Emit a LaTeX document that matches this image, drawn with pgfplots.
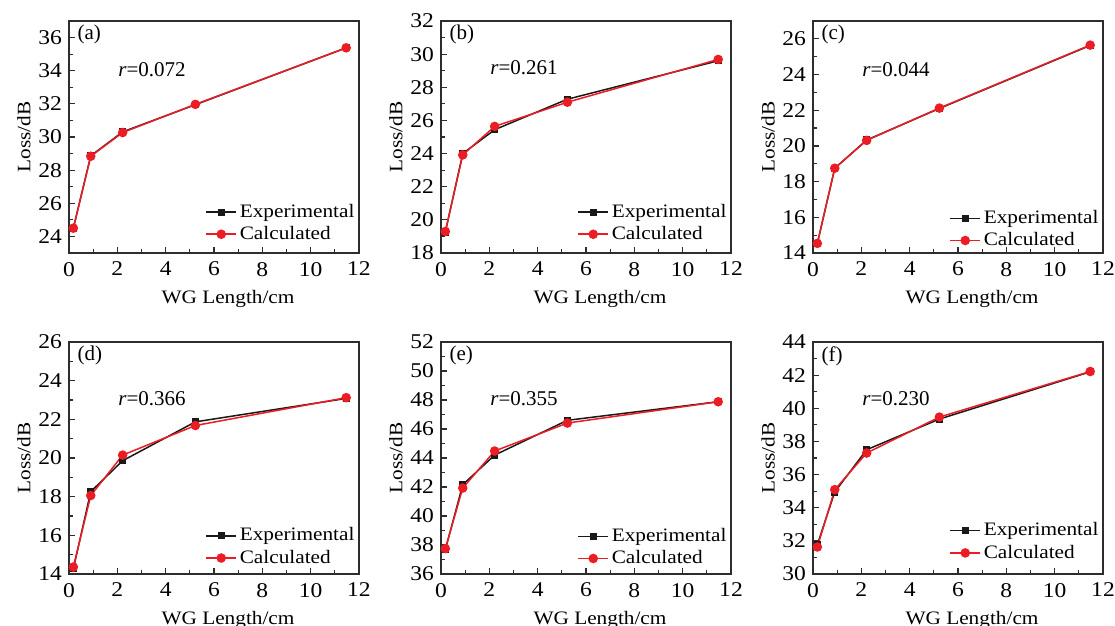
\documentclass[border=0pt]{standalone}
\usepackage{fontspec}
\setmainfont[FakeStretch=1.12]{Liberation Serif}
\newfontfamily\plainserif{Liberation Serif}
\usepackage{pgfplots}
\pgfplotsset{compat=1.18}
\definecolor{expblk}{RGB}{25,25,25}
\definecolor{calred}{RGB}{236,28,36}
\definecolor{framec}{RGB}{45,45,45}
\tikzset{paneltxt/.style={anchor=west, inner sep=0pt, font=\plainserif\fontsize{10.5}{12}\selectfont}}
\pgfplotsset{
  lossax/.style={
    scale only axis, width=145pt, height=116pt,
    anchor=south west,
    xmin=0, xmax=12, xtick={0,2,...,12},
    minor x tick num=1, minor y tick num=1,
    tick pos=left, tick align=inside,
    major tick length=3pt, minor tick length=2pt,
    axis line style={framec, line width=0.7pt},
    every tick/.style={framec, line width=0.6pt},
    ticklabel style={font=\fontsize{10.5}{12}\selectfont},
    xticklabel style={yshift=-1pt},
    /pgf/number format/assume math mode=true,
    xlabel={WG Length/cm}, ylabel={Loss/dB},
    label style={font=\fontsize{9.5}{11}\selectfont},
    xlabel style={xshift=7pt},
    ylabel shift=-3pt,
    legend cell align=left,
    legend style={draw=none, fill=none, font=\fontsize{9.5}{11}\selectfont,
      anchor=south west, inner sep=0pt, row sep=-1pt, nodes={inner xsep=1.5pt}},
    legend image code/.code={\draw[mark repeat=2,mark phase=2,##1] plot coordinates {(0cm,0cm)(0.26cm,0cm)(0.52cm,0cm)};},
  },
  expl/.style={expblk, line width=0.75pt, mark=square*, mark size=1.4pt, mark options={solid}},
  calc/.style={calred, line width=0.75pt, mark=*, mark size=2pt, mark options={solid}},
}
\begin{document}
\begin{tikzpicture}
% (a)
\begin{axis}[lossax, at={(34.5pt,-126.5pt)}, ymin=23, ymax=37, ytick={24,26,...,36},
  legend style={at={(0.47,0.027)}}]
\addplot[expl] coordinates {(0.18,24.50) (0.90,28.86) (2.22,30.31) (5.23,31.95) (11.47,35.38)};
\addplot[calc] coordinates {(0.18,24.50) (0.90,28.84) (2.22,30.27) (5.23,31.97) (11.47,35.38)};
\legend{Experimental,Calculated}
\node[paneltxt] at (rel axis cs:0.028,0.94) {(a)};
\node[paneltxt] at (rel axis cs:0.169,0.789) {\textit{r}=0.072};
\end{axis}
% (b)
\begin{axis}[lossax, at={(220.5pt,-126.5pt)}, ymin=18, ymax=32, ytick={18,20,...,32},
  legend style={at={(0.47,0.027)}}]
\addplot[expl] coordinates {(0.18,19.26) (0.90,24.00) (2.22,25.44) (5.23,27.28) (11.47,29.60)};
\addplot[calc] coordinates {(0.18,19.30) (0.90,23.92) (2.22,25.64) (5.23,27.10) (11.47,29.68)};
\legend{Experimental,Calculated}
\node[paneltxt] at (rel axis cs:0.028,0.94) {(b)};
\node[paneltxt] at (rel axis cs:0.169,0.797) {\textit{r}=0.261};
\end{axis}
% (c)
\begin{axis}[lossax, at={(406.5pt,-126.5pt)}, ymin=14, ymax=27, ytick={14,16,...,26},
  legend style={at={(0.47,0.0)}}]
\addplot[expl] coordinates {(0.18,14.54) (0.90,18.75) (2.22,20.33) (5.23,22.10) (11.47,25.63)};
\addplot[calc] coordinates {(0.18,14.54) (0.90,18.75) (2.22,20.31) (5.23,22.12) (11.47,25.65)};
\legend{Experimental,Calculated}
\node[paneltxt] at (rel axis cs:0.028,0.94) {(c)};
\node[paneltxt] at (rel axis cs:0.169,0.789) {\textit{r}=0.044};
\end{axis}
% (d)
\begin{axis}[lossax, at={(34.5pt,-287pt)}, ymin=14, ymax=26, ytick={14,16,...,26},
  legend style={at={(0.47,0.015)}}]
\addplot[expl] coordinates {(0.18,14.27) (0.90,18.26) (2.22,19.86) (5.23,21.87) (11.47,23.08)};
\addplot[calc] coordinates {(0.18,14.36) (0.90,18.06) (2.22,20.15) (5.23,21.68) (11.47,23.12)};
\legend{Experimental,Calculated}
\node[paneltxt] at (rel axis cs:0.028,0.94) {(d)};
\node[paneltxt] at (rel axis cs:0.169,0.755) {\textit{r}=0.366};
\end{axis}
% (e)
\begin{axis}[lossax, at={(220.5pt,-287pt)}, ymin=36, ymax=52, ytick={36,38,...,52},
  legend style={at={(0.47,0.013)}}]
\addplot[expl] coordinates {(0.18,37.68) (0.90,42.16) (2.22,44.20) (5.23,46.60) (11.47,47.88)};
\addplot[calc] coordinates {(0.18,37.75) (0.90,41.93) (2.22,44.48) (5.23,46.41) (11.47,47.88)};
\legend{Experimental,Calculated}
\node[paneltxt] at (rel axis cs:0.028,0.94) {(e)};
\node[paneltxt] at (rel axis cs:0.169,0.755) {\textit{r}=0.355};
\end{axis}
% (f)
\begin{axis}[lossax, at={(406.5pt,-287pt)}, ymin=30, ymax=44, ytick={30,32,...,44},
  legend style={at={(0.47,0.037)}}]
\addplot[expl] coordinates {(0.18,31.77) (0.90,34.95) (2.22,37.50) (5.23,39.35) (11.47,42.20)};
\addplot[calc] coordinates {(0.18,31.63) (0.90,35.09) (2.22,37.30) (5.23,39.47) (11.47,42.22)};
\legend{Experimental,Calculated}
\node[paneltxt] at (rel axis cs:0.028,0.94) {(f)};
\node[paneltxt] at (rel axis cs:0.169,0.755) {\textit{r}=0.230};
\end{axis}
\pgfresetboundingbox
\useasboundingbox (0pt,0pt) rectangle (557.5pt,-313pt);
\end{tikzpicture}
\end{document}
